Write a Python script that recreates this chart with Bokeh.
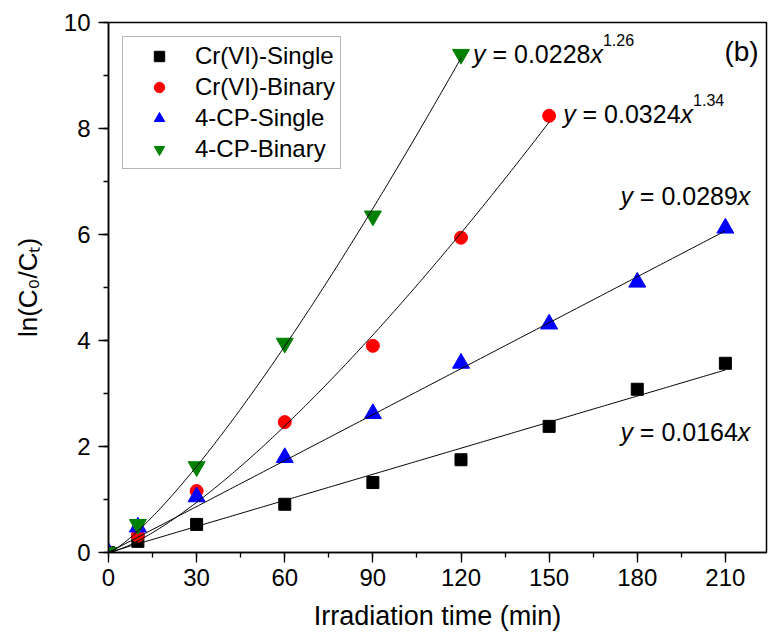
import numpy as np
from bokeh.plotting import figure
from bokeh.models import Range1d, SingleIntervalTicker, Label
from bokeh.embed import file_html
from bokeh.resources import INLINE

# ---------------- data ----------------
time_single = [0, 10, 30, 60, 90, 120, 150, 180, 210]
cr_single = [0, 0.21, 0.53, 0.91, 1.32, 1.75, 2.38, 3.08, 3.57]
cp_single = [0, 0.48, 1.05, 1.79, 2.62, 3.57, 4.31, 5.10, 6.12]
time_cr_binary = [0, 10, 30, 60, 90, 120, 150]
cr_binary = [0, 0.32, 1.16, 2.46, 3.90, 5.94, 8.24]
time_cp_binary = [0, 10, 30, 60, 90, 120]
cp_binary = [0, 0.53, 1.62, 3.95, 6.35, 9.40]

slope_cr_single = 0.0164
slope_cp_single = 0.0289
label_cr_binary = ("0.0324", "1.34")
label_cp_binary = ("0.0228", "1.26")
series_names = ["Cr(VI)-Single", "Cr(VI)-Binary", "4-CP-Single", "4-CP-Binary"]
x_ticks_interval = 30
y_ticks_interval = 2

FONT = "Liberation Sans"


def power_fit(x, y):
    x = np.asarray(x, float)
    y = np.asarray(y, float)
    m = x > 0
    x, y = x[m], y[m]
    best = None
    for b in np.arange(0.8, 1.7, 0.001):
        xb = x ** b
        a = np.sum(y * xb) / np.sum(xb * xb)
        sse = np.sum((y - a * xb) ** 2)
        if best is None or sse < best[0]:
            best = (sse, a, b)
    return best[1], best[2]


p = figure(width=768, height=641, output_backend="svg", toolbar_location=None,
           x_range=Range1d(0, 224), y_range=Range1d(0, 10),
           min_border_left=108, min_border_right=2, min_border_top=22,
           min_border_bottom=89)
p.background_fill_color = "white"
p.border_fill_color = "white"
p.outline_line_color = "black"
p.outline_line_width = 1.5
p.xgrid.visible = False
p.ygrid.visible = False

p.xaxis.ticker = SingleIntervalTicker(interval=x_ticks_interval, num_minor_ticks=2)
p.yaxis.ticker = SingleIntervalTicker(interval=y_ticks_interval, num_minor_ticks=2)
for ax in (p.xaxis[0], p.yaxis[0]):
    ax.axis_line_width = 1.5
    ax.axis_line_color = "black"
    ax.major_tick_in = 0
    ax.major_tick_out = 10
    ax.minor_tick_in = 0
    ax.minor_tick_out = 5
    ax.major_tick_line_width = 1.3
    ax.minor_tick_line_width = 1.3
    ax.major_label_text_font = FONT
    ax.major_label_text_font_size = "24px"
    ax.major_label_text_color = "black"
    ax.axis_label_text_font = FONT
    ax.axis_label_text_font_style = "normal"
    ax.axis_label_text_color = "black"
p.xaxis.axis_label = "Irradiation time (min)"
p.xaxis.axis_label_text_font_size = "27px"
p.xaxis.major_label_standoff = 6
p.xaxis.axis_label_standoff = 12
p.yaxis.axis_label = "ln(C\u2080/C\u209c)"
p.yaxis.axis_label_text_font_size = "26px"
p.yaxis.major_label_standoff = 8
p.yaxis.axis_label_standoff = 18

# ---------------- markers ----------------
p.scatter(time_single, cr_single, marker="square", size=12, color="black",
          legend_label=series_names[0])
p.scatter(time_cr_binary, cr_binary, marker="circle", size=13, color="red",
          legend_label=series_names[1])
p.scatter(time_single, cp_single, marker="triangle", size=17, color="blue",
          legend_label=series_names[2])
p.scatter(time_cp_binary, cp_binary, marker="inverted_triangle", size=17,
          color="green", legend_label=series_names[3])

# ---------------- fitted curves ----------------
xs = np.linspace(0, max(time_single), 200)
p.line(xs, slope_cr_single * xs, color="black", line_width=1)
p.line(xs, slope_cp_single * xs, color="black", line_width=1)
a_r, b_r = power_fit(time_cr_binary, cr_binary)
xr = np.linspace(0, max(time_cr_binary), 200)
p.line(xr, a_r * xr ** b_r, color="black", line_width=1)
a_g, b_g = power_fit(time_cp_binary, cp_binary)
xg = np.linspace(0, max(time_cp_binary), 200)
p.line(xg, a_g * xg ** b_g, color="black", line_width=1)

# ---------------- equations ----------------
WID = {' ': 278, '=': 584, '.': 278, 'x': 500, 'y': 500, '(': 333, ')': 333, 'b': 556}
for d in "0123456789":
    WID[d] = 556


def tw(s, size):
    return sum(WID[c] for c in s) / 1000.0 * size


EQ = 25
SUP = 16


def equation(xd, yd, dx, dy, coef, power=None, center=False):
    pieces = [("y", "italic", EQ, 0, tw(" ", EQ)),
              ("= " + coef, "normal", EQ, 0, 0),
              ("x", "italic", EQ, 0, 0)]
    if power:
        pieces.append((power, "normal", SUP, 14, 0))
    total = sum(tw(t, fs) + g for t, _, fs, _, g in pieces)
    off = dx - (total / 2 if center else 0)
    for text, style, fs, rise, gap in pieces:
        p.add_layout(Label(x=xd, y=yd, x_offset=off, y_offset=dy + rise, text=text,
                           text_font=FONT, text_font_size=f"{fs}px",
                           text_font_style=style, text_baseline="alphabetic",
                           text_align="left", text_color="black"))
        off += tw(text, fs) + gap


equation(time_cp_binary[-1], cp_binary[-1], 12, 0, *label_cp_binary)
equation(time_cr_binary[-1], cr_binary[-1], 14, 2, *label_cr_binary)
equation(time_single[-1], slope_cp_single * time_single[-1], -40, 35,
         f"{slope_cp_single}", center=True)
equation(time_single[-1], slope_cr_single * time_single[-1], -40, -62,
         f"{slope_cr_single}", center=True)

p.add_layout(Label(x=224, y=10, x_offset=-25, y_offset=-29, text="(b)",
                   text_font=FONT, text_font_size="28px", text_align="center",
                   text_baseline="alphabetic", text_color="black"))

# ---------------- legend ----------------
lg = p.legend[0]
lg.location = (14, 383)
lg.label_text_font = FONT
lg.label_text_font_size = "24px"
lg.label_text_color = "black"
lg.border_line_color = "#6e6e6e"
lg.border_line_width = 1.2
lg.background_fill_color = "white"
lg.background_fill_alpha = 1
lg.padding = 5
lg.spacing = 3
lg.glyph_width = 62
lg.glyph_height = 26
lg.label_height = 20
lg.label_standoff = 5
lg.margin = 0

open("out.html", "w").write(file_html(p, INLINE))
